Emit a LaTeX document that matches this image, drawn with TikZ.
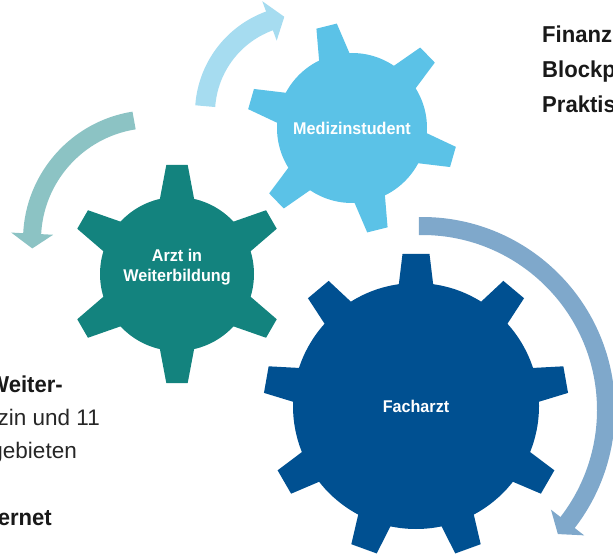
\documentclass[tikz,border=0pt]{standalone}
\usepackage{fontspec}
\setmainfont{Liberation Sans}
\definecolor{fachblue}{RGB}{0,80,145}
\definecolor{medblue}{RGB}{91,194,231}
\definecolor{arztteal}{RGB}{19,131,126}
\definecolor{arrowlight}{RGB}{166,220,240}
\definecolor{arrowteal}{RGB}{140,195,196}
\definecolor{arrowblue}{RGB}{127,168,203}
\newcommand{\drawgear}[8]{%
  \fill[#2] (#1) circle[radius=#3pt];
  \foreach \k in {1,...,#8} {
    \pgfmathsetmacro\gang{#7+360/#8*(\k-1)}
    \fill[#2, shift={(#1)}, rotate=\gang] (#3-4,-#5) -- (#4,-#6) -- (#4,#6) -- (#3-4,#5) -- cycle;
  }%
}
\begin{document}
\begin{tikzpicture}[x=1pt,y=1pt,
  gearlabel/.style={text=white, font=\fontsize{17}{19.5}\selectfont\bfseries, align=center, inner sep=0pt, xscale=0.95},
  sidebold/.style={font=\fontsize{23}{27}\selectfont\bfseries, text=black!90, inner sep=0pt, xscale=0.96},
  sidereg/.style={font=\fontsize{22.5}{27}\selectfont, text=black!85, inner sep=0pt}]
\useasboundingbox (0,0) rectangle (613,555);
\clip (0,0) rectangle (613,555);
% centres
\coordinate (cf) at (416,149);
\coordinate (cm) at (352,427);
\coordinate (ca) at (177,281);
\coordinate (atop) at (303,442);
\coordinate (ateal) at (153,315);
\coordinate (aright) at (422,145);
% arrows
\draw[arrowlight, line width=20pt] ([shift={(176:98pt)}]atop) arc[start angle=176, end angle=109, radius=98pt];
\fill[arrowlight] ([shift={(110:119pt)}]atop) -- ([shift={(101:98pt)}]atop) -- ([shift={(110:77pt)}]atop) -- cycle;
\draw[arrowteal, line width=18pt] ([shift={(99:121pt)}]ateal) arc[start angle=99, end angle=178, radius=121pt];
\fill[arrowteal] ([shift={(177:142pt)}]ateal) -- ([shift={(184:121pt)}]ateal) -- ([shift={(177:100pt)}]ateal) -- cycle;
\draw[arrowblue, line width=18pt] ([shift={(91:184pt)}]aright) arc[start angle=91, end angle=-38.7, radius=184pt];
\fill[arrowblue] ([shift={(-37.7:205pt)}]aright) -- ([shift={(-42.4:184pt)}]aright) -- ([shift={(-37.7:163pt)}]aright) -- cycle;
% gears
\drawgear{cf}{fachblue}{123}{152}{17.5}{13.5}{90}{9}
\drawgear{cm}{medblue}{75}{105}{16}{10.5}{104}{6}
\drawgear{ca}{arztteal}{77}{109}{17.5}{10.7}{90}{6}
% gear labels
\node[gearlabel] (fach) at (cf) {Facharzt};
\node[gearlabel] (med) at (cm) {Medizinstudent};
\node[gearlabel] (arzt) at ([yshift=7pt]ca) {Arzt in\\Weiterbildung};
% side texts
\node[sidebold, anchor=base west] (r1) at (542,512) {Finanz};
\node[sidebold, anchor=base west] (r2) at (542,477) {Blockp};
\node[sidebold, anchor=base west] (r3) at (542,442) {Praktis};
\node[sidebold, anchor=base east] (l1) at (63,163) {Weiter-};
\node[sidereg, anchor=base east] (l2) at (100,130) {zin und 11};
\node[sidereg, anchor=base east] (l3) at (77,97) {gebieten};
\node[sidebold, anchor=base east] (l4) at (52,30) {ernet};
\end{tikzpicture}
\end{document}
